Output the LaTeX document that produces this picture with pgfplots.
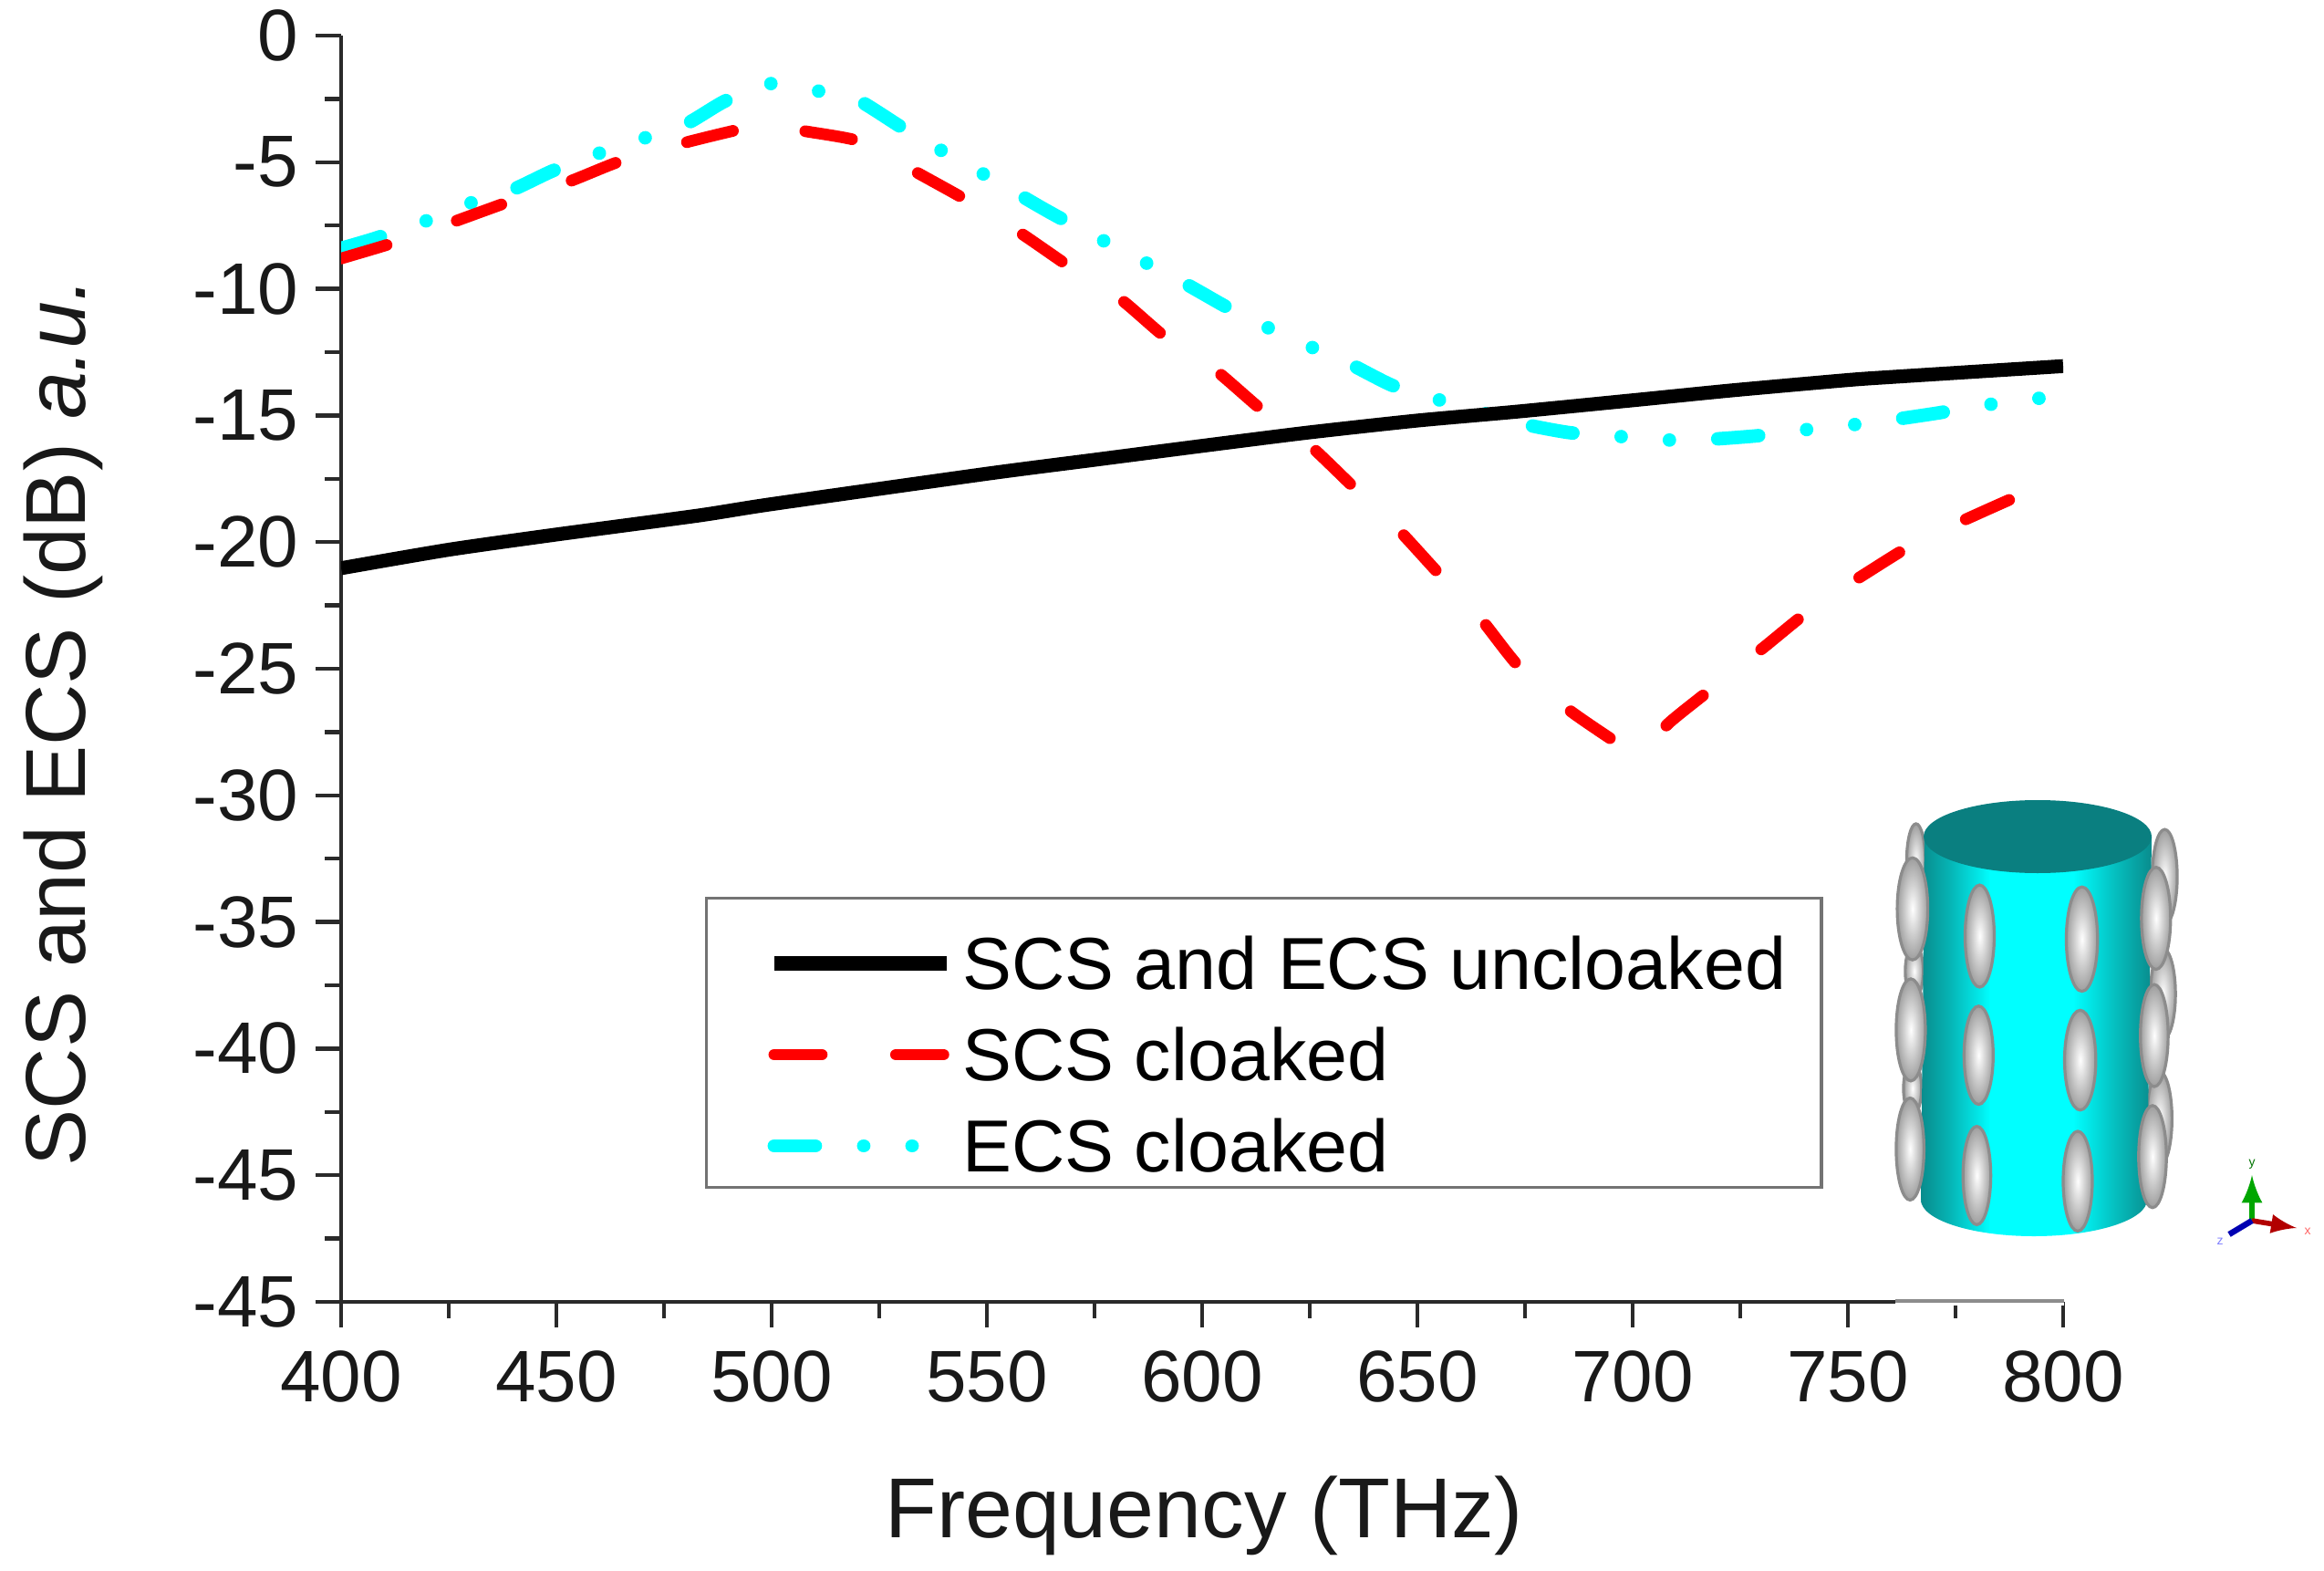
\documentclass[border=0pt]{standalone}
\usepackage{fontspec}
\setmainfont{Liberation Sans}
\usepackage{pgfplots}
\pgfplotsset{compat=1.18}
\definecolor{axisgrey}{HTML}{2A2A2A}
\definecolor{cloakcyan}{HTML}{00FFFF}
\definecolor{capteal}{HTML}{0A7F80}
\pgfdeclarehorizontalshading{cylshade}{100bp}{
  color(0bp)=(capteal!90!cloakcyan);
  color(25bp)=(capteal!90!cloakcyan);
  color(31bp)=(capteal!60!cloakcyan);
  color(38bp)=(capteal!15!cloakcyan);
  color(40bp)=(cloakcyan);
  color(58bp)=(cloakcyan);
  color(67bp)=(capteal!50!cloakcyan);
  color(75bp)=(capteal!90!cloakcyan);
  color(100bp)=(capteal!90!cloakcyan)}
\pgfplotsset{
  plain legend/.style={legend image code/.code={
      \path[draw=none] (0pt,-3.2pt) -- (58.6pt,-3.2pt);
      \draw[##1] (11.4pt,-3.2pt) -- (58.6pt,-3.2pt);}},
}
\newcommand{\spheroid}[4]{% centre and half axes, in zoomed crop pixels
  \shade[inner color=white,outer color=black!38,draw=black!45,line width=0.8pt]
    ({1950+#1/2.622},{820+#2/2.412}) ellipse [x radius={#3/2.622},y radius={#4/2.412}];}

\begin{document}
\begin{tikzpicture}
\path[use as bounding box] (0pt,0pt) rectangle (637pt,-430.5pt);
\begin{axis}[
    at={(93.5pt,-356.75pt)}, anchor=south west,
    scale only axis,
    width=472pt, height=347pt,
    xmin=400, xmax=800, ymin=-50, ymax=0,
    axis lines*=left,
    axis line style={-,line width=1.2pt,color=axisgrey},
    tick style={line width=1.1pt,color=axisgrey},
    tick align=outside,
    major tick length=7pt, minor tick length=4.4pt,
    xtick={400,450,500,550,600,650,700,750,800},
    ytick={0,-5,-10,-15,-20,-25,-30,-35,-40,-45,-50},
    yticklabels={0,-5,-10,-15,-20,-25,-30,-35,-40,-45,-45},
    minor x tick num=1, minor y tick num=1,
    tick label style={font=\fontsize{20}{24}\selectfont,color=black!90},
    xticklabel style={/pgf/number format/assume math mode=true,yshift=-2.8pt},
    yticklabel style={xshift=-1.2pt},
    xlabel={Frequency (THz)},
    ylabel={SCS and ECS (dB) \textit{a.u.}},
    label style={font=\fontsize{23.3}{28}\selectfont,color=black!90},
    xlabel style={at={(axis description cs:0.501,-0.169)},anchor=center},
    ylabel style={at={(axis description cs:-0.1616,0.458)},anchor=center},
    plain legend,
    reverse legend,
    legend cell align=left,
    legend style={
      at={(axis description cs:0.2113,0.3199)}, anchor=north west,
      draw=black!55, line width=0.8pt,
      font=\fontsize{20.2}{24}\selectfont,
      inner xsep=7.2pt, inner ysep=2.9pt,
      row sep=1.5pt,
      /tikz/every even column/.append style={column sep=0pt},
      nodes={inner xsep=2.5pt,inner ysep=0pt,text height=22pt,text depth=1.5pt},
    },
]
\addplot[cloakcyan,line width=3.7pt,line cap=round,smooth,tension=0.4,
    dash pattern=on 11.25pt off 13.25pt on 0.01pt off 13.25pt on 0.01pt off 13.25pt]
  coordinates {(400,-8.4)(408,-8.0)(420,-7.3)(431,-6.55)(440,-6.07)(449,-5.35)(459,-4.7)
    (470,-4.07)(480,-3.5)(489,-2.6)(499,-1.9)(509.6,-2.16)(519,-2.45)(530,-3.6)(538,-4.4)
    (548,-5.35)(556.7,-6.2)(567,-7.2)(594,-9.6)(605.5,-10.7)(613.6,-11.4)(624,-12.2)
    (633,-12.85)(644,-13.8)(653.4,-14.3)(673,-15.27)(685,-15.67)(695,-15.8)(706.5,-15.96)
    (716,-15.96)(729,-15.8)(738,-15.6)(749.4,-15.4)(759,-15.2)(771,-14.9)(781,-14.6)
    (792,-14.4)(800,-14.1)};
\addlegendentry{ECS cloaked}
\addplot[red,line width=3.2pt,line cap=round,smooth,tension=0.4,dash pattern=on 13pt off 20.35pt]
  coordinates {(400,-8.8)(412.4,-8.17)(426,-7.36)(439,-6.56)(453,-5.76)(465,-4.95)(480.5,-4.2)
    (492.6,-3.7)(500,-3.45)(507,-3.75)(521,-4.2)(534,-5.43)(545,-6.47)(557.5,-7.76)(569,-9.1)
    (581,-10.4)(591.4,-11.9)(603,-13.2)(614,-14.8)(624.8,-16.15)(635,-17.8)(645,-19.4)
    (655,-21.25)(664.6,-23)(673.5,-24.9)(685,-26.6)(697,-28)(701,-28.4)(708.7,-27.1)(719,-25.7)
    (730.5,-24.15)(741.8,-22.6)(754.5,-21.2)(766,-20)(780,-18.9)(792,-18)(800,-17.5)};
\addlegendentry{SCS cloaked}
\addplot[black,line width=3.8pt,smooth,tension=0.4]
  coordinates {(400,-21.03)(425,-20.3)(450,-19.7)(483,-18.95)(500,-18.5)(550,-17.3)(575,-16.75)
    (600,-16.2)(624.8,-15.67)(650,-15.2)(673,-14.85)(700,-14.4)(723.6,-14.0)(750,-13.6)
    (761,-13.47)(800,-13.05)};
\addlegendentry{SCS and ECS uncloaked}
\end{axis}
% inset and the paler end of the x axis, in reference pixels
\begin{scope}[x=0.25pt,y=-0.25pt]
\draw[white,line width=2pt] (2078,1427) -- (2263,1427);
\draw[black!45,line width=0.8pt] (2078,1426) -- (2263,1426);
\spheroid{395}{300}{27}{100}
\spheroid{390}{590}{26}{70}
\spheroid{385}{900}{26}{70}
\spheroid{1110}{340}{36}{125}
\spheroid{1105}{650}{36}{120}
\spheroid{1095}{980}{36}{125}
\shade[shading=cylshade] (2110,917) -- (2106,1315) arc [start angle=180,end angle=0,x radius=124,y radius=40] -- (2359,917) -- cycle;
\fill[capteal] (2234,917) ellipse [x radius=125,y radius=40];
\spheroid{385}{425}{44}{135}
\spheroid{380}{745}{42}{135}
\spheroid{378}{1060}{40}{135}
\spheroid{1085}{450}{42}{135}
\spheroid{1080}{760}{40}{135}
\spheroid{1075}{1080}{40}{135}
\spheroid{578}{497}{42}{135}
\spheroid{575}{812}{42}{130}
\spheroid{570}{1130}{40}{130}
\spheroid{872}{505}{45}{138}
\spheroid{867}{825}{45}{132}
\spheroid{860}{1145}{42}{132}
% axis triad
\draw[green!65!black,line width=1.6pt,-latex] (2469,1338) -- (2469,1288);
\draw[red!70!black,line width=1.4pt,-latex] (2469,1338) -- (2518,1346);
\draw[blue!70!black,line width=1.6pt] (2469,1338) -- (2444,1353);
\node[font=\fontsize{3.5}{4}\selectfont,text=green!45!black,inner sep=0pt] at (2469,1276) {y};
\node[font=\fontsize{3.5}{4}\selectfont,text=red!60,inner sep=0pt] at (2530,1350) {x};
\node[font=\fontsize{3.5}{4}\selectfont,text=blue!50,inner sep=0pt] at (2434,1361) {z};
\end{scope}
\end{tikzpicture}
\end{document}
